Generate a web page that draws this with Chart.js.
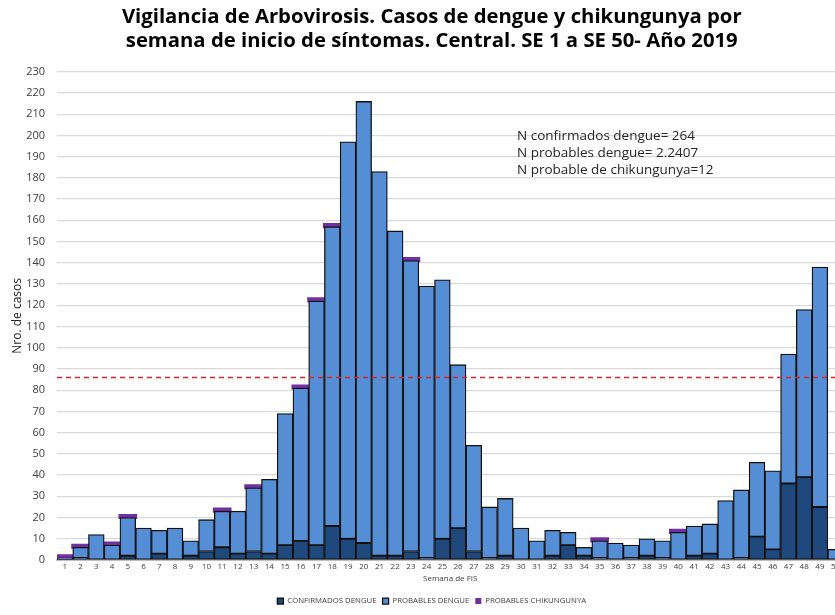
<!DOCTYPE html>
<html>
<head>
<meta charset="utf-8">
<script src="https://cdn.jsdelivr.net/npm/chart.js@4.4.0/dist/chart.umd.min.js"></script>
<style>
  html, body { margin: 0; padding: 0; background: #fff; overflow: hidden; }
  #wrap { width: 860px; height: 615px; position: relative; }
</style>
</head>
<body>
<div id="wrap"><canvas id="grafico"></canvas></div>
<script>
// Datos
const semanas = Array.from({ length: 50 }, (_, i) => String(i + 1));
const confirmados = [0,1,0,0,2,0,3,0,2,4, 6,3,4,3,7,9,7,16,10,8, 2,2,4,1,10,15,4,1,2,0, 0,2,7,2,1,0,1,2,1,0, 2,3,0,1,11,5,36,39,25,0];
const probables = [1,5,12,7,18,15,11,15,7,15, 17,20,30,35,62,72,115,141,187,208, 181,153,137,128,122,77,50,24,27,15, 9,12,6,4,8,8,6,8,8,13, 14,14,28,32,35,37,61,79,113,5];
const chikungunya = [1,1,0,1,1,0,0,0,0,0, 1,0,1,0,0,1,1,1,0,0, 0,0,1,0,0,0,0,0,0,0, 0,0,0,0,1,0,0,0,0,1, 0,0,0,0,0,0,0,0,0,0];
const umbral = 86;
const notas = ['N confirmados dengue= 264', 'N probables dengue= 2.2407', 'N probable de chikungunya=12'];
const titulo = ['Vigilancia de Arbovirosis. Casos de dengue y chikungunya por', 'semana de inicio de síntomas. Central. SE 1 a SE 50- Año 2019'];
const tituloY = 'Nro. de casos';

const fuente = '"Open Sans", "DejaVu Sans", sans-serif';

// linea de umbral, notas y titulo del eje Y
const extras = {
  id: 'extras',
  afterDatasetsDraw(chart) {
    const { ctx, chartArea, scales } = chart;
    const y = scales.y.getPixelForValue(umbral);
    ctx.save();
    ctx.strokeStyle = '#d9262e';
    ctx.lineWidth = 1.5;
    ctx.setLineDash([5, 4]);
    ctx.beginPath();
    ctx.moveTo(chartArea.left, y);
    ctx.lineTo(chartArea.right, y);
    ctx.stroke();
    ctx.setLineDash([]);
    ctx.fillStyle = '#262626';
    ctx.font = '13.5px ' + fuente;
    ctx.textBaseline = 'middle';
    notas.forEach((t, i) => ctx.fillText(t, 517, 136 + i * 17));
    // titulo eje Y
    ctx.translate(18, (chartArea.top + chartArea.bottom) / 2);
    ctx.rotate(-Math.PI / 2);
    ctx.textAlign = 'center';
    ctx.font = '12px ' + fuente;
    ctx.fillText(tituloY, 0, 0);
    ctx.restore();
  }
};

new Chart(document.getElementById('grafico'), {
  type: 'bar',
  data: {
    labels: semanas,
    datasets: [
      { label: 'CONFIRMADOS DENGUE', data: confirmados, backgroundColor: '#1f497d', borderColor: '#111', borderWidth: 1.3 },
      { label: 'PROBABLES DENGUE', data: probables, backgroundColor: '#558ed5', borderColor: '#111', borderWidth: 1.3 },
      { label: 'PROBABLES CHIKUNGUNYA', data: chikungunya.map(v => v || null), backgroundColor: '#7030a0', borderColor: '#7030a0', borderWidth: 0, inflateAmount: 1.5 }
    ]
  },
  options: {
    responsive: true,
    maintainAspectRatio: false,
    animation: false,
    layout: { padding: { left: 20, right: 16.5, top: 0, bottom: 0 } },
    datasets: { bar: { categoryPercentage: 1, barPercentage: 1, borderSkipped: false } },
    plugins: {
      title: {
        display: true,
        text: titulo,
        color: '#000',
        font: { family: fuente, size: 20.3, weight: 'bold', lineHeight: 1.15 },
        padding: { top: 6, bottom: 19 }
      },
      legend: {
        position: 'bottom',
        labels: {
          boxWidth: 6, boxHeight: 6, padding: 6,
          color: '#404040',
          font: { family: fuente, size: 7.8 }
        }
      },
      tooltip: { enabled: false }
    },
    scales: {
      x: {
        stacked: true,
        grid: { display: false, drawTicks: false },
        border: { color: '#bfbfbf', width: 2 },
        ticks: { color: '#404040', font: { family: fuente, size: 8 }, maxRotation: 0, autoSkip: false, padding: 2 },
        title: { display: true, text: 'Semana de FIS', color: '#404040', font: { family: fuente, size: 8 }, padding: { top: 0, bottom: 8 } }
      },
      y: {
        stacked: true,
        min: 0, max: 230,
        afterFit(scale) { scale.width = 37; },
        grid: { color: '#d9d9d9', lineWidth: 1.2, drawTicks: false },
        border: { display: false },
        ticks: { stepSize: 10, color: '#404040', font: { family: fuente, size: 11 }, padding: 12 }
      }
    }
  },
  plugins: [extras]
});
</script>
</body>
</html>
